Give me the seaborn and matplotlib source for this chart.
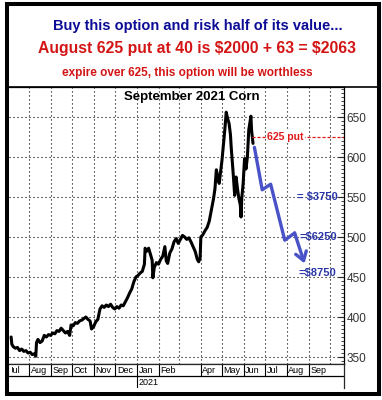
import matplotlib
matplotlib.use("Agg")
import matplotlib.pyplot as plt
from matplotlib.patches import Rectangle
from matplotlib.lines import Line2D
from matplotlib.ticker import MultipleLocator
from matplotlib.transforms import Bbox
import pandas as pd
import seaborn as sns

# --- data ---
price_dates = [
    "2020-07-06", "2020-07-07", "2020-07-09", "2020-07-12", "2020-07-15", "2020-07-18",
    "2020-07-21", "2020-07-24", "2020-07-27", "2020-07-30", "2020-08-02", "2020-08-05",
    "2020-08-08", "2020-08-10", "2020-08-11", "2020-08-13", "2020-08-16", "2020-08-19",
    "2020-08-22", "2020-08-25", "2020-08-28", "2020-08-31", "2020-09-03", "2020-09-06",
    "2020-09-09", "2020-09-12", "2020-09-15", "2020-09-18", "2020-09-21", "2020-09-24",
    "2020-09-27", "2020-09-29", "2020-10-02", "2020-10-05", "2020-10-08", "2020-10-11",
    "2020-10-14", "2020-10-17", "2020-10-20", "2020-10-23", "2020-10-26", "2020-10-28",
    "2020-10-31", "2020-11-03", "2020-11-06", "2020-11-09", "2020-11-12", "2020-11-15",
    "2020-11-18", "2020-11-21", "2020-11-24", "2020-11-27", "2020-11-30", "2020-12-03",
    "2020-12-06", "2020-12-09", "2020-12-12", "2020-12-15", "2020-12-18", "2020-12-21",
    "2020-12-24", "2020-12-27", "2020-12-30", "2021-01-02", "2021-01-05", "2021-01-08",
    "2021-01-11", "2021-01-12", "2021-01-14", "2021-01-17", "2021-01-20", "2021-01-22",
    "2021-01-23", "2021-01-25", "2021-01-28", "2021-01-31", "2021-02-03", "2021-02-06",
    "2021-02-09", "2021-02-11", "2021-02-13", "2021-02-16", "2021-02-19", "2021-02-22",
    "2021-02-25", "2021-02-28", "2021-03-03", "2021-03-06", "2021-03-09", "2021-03-12",
    "2021-03-15", "2021-03-18", "2021-03-21", "2021-03-24", "2021-03-27", "2021-03-29",
    "2021-03-31", "2021-04-01", "2021-04-04", "2021-04-07", "2021-04-10", "2021-04-13",
    "2021-04-16", "2021-04-19", "2021-04-21", "2021-04-23", "2021-04-25", "2021-04-27",
    "2021-04-29", "2021-05-01", "2021-05-03", "2021-05-05", "2021-05-07", "2021-05-09",
    "2021-05-11", "2021-05-13", "2021-05-14", "2021-05-16", "2021-05-17", "2021-05-19",
    "2021-05-21", "2021-05-23", "2021-05-25", "2021-05-27", "2021-05-28", "2021-05-29",
    "2021-05-31", "2021-06-02", "2021-06-04", "2021-06-06", "2021-06-08", "2021-06-10",
    "2021-06-11", "2021-06-12", "2021-06-14",
]
price_values = [
    375, 366, 363, 361, 362, 358,
    360, 357, 358, 355, 356, 353,
    354, 351, 368, 372, 368, 370,
    377, 375, 378, 377, 380, 379,
    383, 382, 386, 383, 380, 382,
    377, 390, 389, 393, 392, 395,
    396, 398, 400, 397, 395, 385,
    388, 394, 397, 410, 414, 412,
    415, 413, 416, 412, 410, 413,
    411, 415, 414, 419, 424, 430,
    435, 444, 450, 452, 455, 457,
    466, 486, 482, 486, 477, 471,
    449, 462, 468, 466, 472, 476,
    488, 470, 467, 480, 485, 494,
    498, 492, 497, 502, 500, 497,
    499, 494, 488, 482, 472, 469,
    474, 500, 503, 508, 512, 520,
    534, 548, 560, 584, 575, 567,
    582, 596, 615, 634, 656, 648,
    642, 628, 613, 590, 578, 552,
    575, 560, 548, 540, 525, 548,
    567, 598, 585, 600, 634, 645,
    651, 633, 617,
]

arrow_dates = ["2021-06-16", "2021-06-27", "2021-07-09", "2021-07-29", "2021-08-12", "2021-08-26"]
arrow_values = [612, 559, 566, 496, 505, 467]

payoff_labels = ["= $3750", "=$6250", "=$8750"]
payoff_levels = [550, 500, 455]
payoff_dates = ["2021-08-15", "2021-08-19", "2021-08-17"]

strike = 625
strike_start = "2021-06-13"
strike_label_date = "2021-07-30"

month_starts = ["2020-07-01", "2020-08-01", "2020-09-01", "2020-10-01", "2020-11-01",
                "2020-12-01", "2021-01-01", "2021-02-01", "2021-04-01", "2021-05-01",
                "2021-06-01", "2021-07-01", "2021-08-01", "2021-09-01"]
month_names = ["Jul", "Aug", "Sep", "Oct", "Nov", "Dec", "Jan", "Feb",
               "Apr", "May", "Jun", "Jul", "Aug", "Sep"]
grid_months = pd.date_range("2020-08-01", "2021-10-01", freq="MS")
y_ticks = [350, 400, 450, 500, 550, 600, 650]

x_start, x_end = pd.Timestamp("2020-07-03"), pd.Timestamp("2021-10-21")
y_lo, y_hi = 341.25, 687.5

W, H = 382, 400


def fx(x):
    return x / W


def fy(y):
    return 1 - y / H


sns.set_style("white")
plt.rcParams["font.family"] = ["Liberation Sans", "DejaVu Sans"]

fig = plt.figure(figsize=(W / 100, H / 100), dpi=100)
fig.patch.set_facecolor("white")

# main price panel
ax = fig.add_axes([fx(9), fy(364), fx(344) - fx(9), fy(87) - fy(364)])
df = pd.DataFrame({"date": pd.to_datetime(price_dates), "price": price_values})
sns.lineplot(data=df, x="date", y="price", ax=ax, color="black", lw=2.2,
             sort=False, estimator=None)

ax.set_xlim(x_start, x_end)
ax.set_ylim(y_lo, y_hi)
ax.set_xticks([])
for gm in grid_months:
    ax.axvline(gm, color="black", lw=0.8, ls=(0, (1, 2.6)), zorder=0)
for yt in y_ticks:
    ax.axhline(yt, color="black", lw=0.8, ls=(0, (1, 2.6)), zorder=0)

ax.yaxis.tick_right()
ax.set_yticks(y_ticks)
ax.yaxis.set_minor_locator(MultipleLocator(5))
ax.tick_params(axis="y", which="major", direction="in", length=4, width=0.8,
               labelsize=8.5, labelcolor="#333333", pad=2)
ax.tick_params(axis="y", which="minor", direction="in", length=2, width=0.6)
for side in ["top", "right", "bottom"]:
    ax.spines[side].set_color("black")
    ax.spines[side].set_linewidth(0.9)
ax.spines["left"].set_visible(False)

ax.text(0.546, 0.964, "September 2021 Corn", transform=ax.transAxes, ha="center",
        va="center", fontsize=9.5, fontweight="bold", color="black")

# projected path
arrow_x = pd.to_datetime(arrow_dates)
adf = pd.DataFrame({"date": arrow_x[:-1], "price": arrow_values[:-1]})
sns.lineplot(data=adf, x="date", y="price", ax=ax, color="#4a52c8", lw=2.4,
             sort=False, estimator=None)
ax.annotate("", xy=(arrow_x[-1], arrow_values[-1]), xytext=(arrow_x[-2], arrow_values[-2]),
            arrowprops=dict(arrowstyle="->,head_length=0.6,head_width=0.4",
                            color="#4a52c8", lw=2.4, shrinkA=0, shrinkB=0))
ax.set_xlabel("")
ax.set_ylabel("")

for lab, lvl, d in zip(payoff_labels, payoff_levels, payoff_dates):
    ax.text(pd.Timestamp(d), lvl, lab, ha="left", va="center", fontsize=8,
            fontweight="bold", color="#2a36a8", clip_on=False, parse_math=False)

# strike line
ax.hlines(strike, pd.Timestamp(strike_start), x_end, colors="#e01818", lw=0.9,
          linestyles=(0, (2.5, 1.5)))
ax.text(pd.Timestamp(strike_label_date), strike, "625 put", ha="center", va="center",
        fontsize=7.6, fontweight="bold", color="#e01818",
        bbox=dict(facecolor="white", edgecolor="none", pad=0.6))

# date axis rows
axd = fig.add_axes([fx(9), fy(388), fx(344) - fx(9), fy(364) - fy(388)])
axd.set_xlim(x_start, x_end)
axd.set_ylim(0, 2)
axd.set_xticks([])
axd.set_yticks([])
axd.spines["left"].set_visible(False)
axd.spines["bottom"].set_visible(False)
axd.spines["top"].set_linewidth(0.9)
axd.spines["right"].set_linewidth(0.9)
axd.axhline(1, color="black", lw=0.9)
ms = pd.to_datetime(month_starts)
axd.vlines(ms, 1, 2, colors="black", lw=0.8)
clip = Bbox([[11.5, 0], [344, H]])
for m, name in zip(ms, month_names):
    t = axd.text(m + pd.Timedelta(days=2), 1.45, name, ha="left", va="center",
                 fontsize=6.5, color="black", clip_on=True)
    t.set_clip_box(clip)
axd.vlines(pd.Timestamp("2021-01-01"), 0, 1, colors="black", lw=0.8)
axd.text(pd.Timestamp("2021-01-03"), 0.45, "2021", ha="left", va="center",
         fontsize=6.5, color="black")

# header
fig.text(fx(198), fy(26), "Buy this option and risk half of its value...", ha="center",
         va="center", fontsize=10.5, fontweight="bold", color="#0c0c96")
fig.text(fx(197), fy(48.5), "August 625 put at 40 is $2000 + 63 = $2063", ha="center",
         va="center", fontsize=11.3, fontweight="bold", color="#d41414", parse_math=False)
fig.text(fx(187), fy(73), "expire over 625, this option will be worthless", ha="center",
         va="center", fontsize=8.5, fontweight="bold", color="#d41414")

# frame
fig.add_artist(Rectangle((fx(7), fy(393.5)), fx(379) - fx(7), fy(4) - fy(393.5),
                         transform=fig.transFigure, fill=False, lw=2.9, ec="black"))
fig.add_artist(Line2D([fx(7), fx(379)], [fy(86.8), fy(86.8)], transform=fig.transFigure,
                      lw=1.2, color="black"))

fig.savefig("out.png", dpi=100, facecolor="white")
